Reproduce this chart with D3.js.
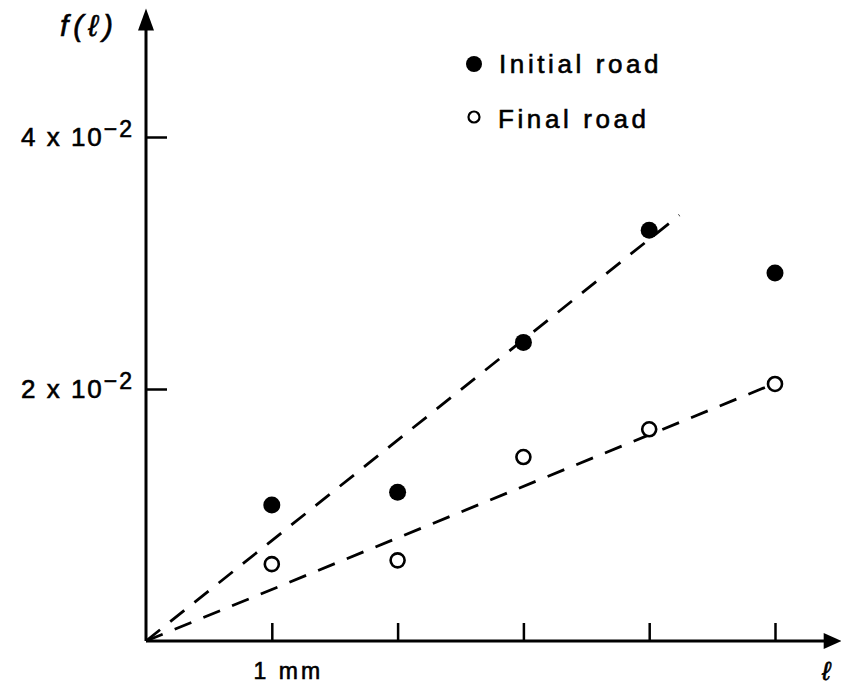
<!DOCTYPE html>
<html>
<head>
<meta charset="utf-8">
<script src="https://cdn.jsdelivr.net/npm/d3@7"></script>
<style>
  body { margin: 0; background: #fff; }
  text { font-family: "Liberation Sans", Arial, sans-serif; fill: #000; stroke: #000; stroke-width: 0.6; }
</style>
</head>
<body>
<div id="chart"></div>
<script>
// Data
let lengths = [1, 2, 3, 4, 5];                          // l, mm
let initialRoad = [0.0108, 0.0118, 0.0237, 0.0326, 0.0292];
let finalRoad = [0.0061, 0.0064, 0.0146, 0.0168, 0.0204];
let fitSlopes = [0.00797, 0.00409];                     // dashed lines through origin
let fitEnds = [4.24, 4.92];                             // where each dashed line stops
let yTicks = [0.02, 0.04];
let yTickLabels = [["2 x 10", "\u22122"], ["4 x 10", "\u22122"]];

let width = 841, height = 685;

let svg = d3.select("#chart")
	.append("svg")
	.attr("width", width)
	.attr("height", height);

// Scales: origin of the axes sits at (146, 641)
let x = d3.scaleLinear().domain([0, 5]).range([146, 775]);
let y = d3.scaleLinear().domain([0, 0.04]).range([641, 137]);

let xEnd = 5.53, yEnd = 0.0502;

// Axis ticks through d3.axis
let xAxis = svg.append("g")
	.attr("transform", "translate(0," + y(0) + ")")
	.call(d3.axisBottom(x)
		.tickValues(lengths)
		.tickSize(-18)
		.tickFormat(function (d) { return d === 1 ? "1 mm" : ""; }));
xAxis.select(".domain").remove();
xAxis.selectAll(".tick line").attr("stroke", "#000").attr("stroke-width", 2.5);
xAxis.selectAll(".tick text")
	.attr("font-size", 23)
	.attr("letter-spacing", 3)
	.attr("dx", 16)
	.attr("dy", 0)
	.attr("y", 38);

let yAxis = svg.append("g")
	.attr("transform", "translate(" + x(0) + ",0)")
	.call(d3.axisLeft(y)
		.tickValues(yTicks)
		.tickSize(-21)
		.tickFormat(""));
yAxis.select(".domain").remove();
yAxis.selectAll(".tick line").attr("stroke", "#000").attr("stroke-width", 2.5);
yAxis.selectAll(".tick text").remove();

// Tick labels with superscript exponent
yTicks.forEach(function (t, i) {
	let label = svg.append("text")
		.attr("x", 21)
		.attr("y", y(t) + 9)
		.attr("font-size", 26)
		.attr("letter-spacing", 2);
	label.append("tspan").text(yTickLabels[i][0]);
	label.append("tspan")
		.attr("dy", -9)
		.attr("font-size", 23)
		.text(yTickLabels[i][1]);
});

// Axis lines with arrow heads
svg.append("line")
	.attr("x1", x(0)).attr("y1", y(0))
	.attr("x2", x(xEnd) - 10).attr("y2", y(0))
	.attr("stroke", "#000").attr("stroke-width", 3);
svg.append("line")
	.attr("x1", x(0)).attr("y1", y(0))
	.attr("x2", x(0)).attr("y2", y(yEnd) + 10)
	.attr("stroke", "#000").attr("stroke-width", 3);

svg.append("path")
	.attr("d", "M" + x(xEnd) + "," + y(0) + "l-18,-8l0,16z")
	.attr("fill", "#000");
svg.append("path")
	.attr("d", "M" + x(0) + "," + y(yEnd) + "l-8,22l16,0z")
	.attr("fill", "#000");

// Axis titles
svg.append("text")
	.attr("x", 60).attr("y", 36)
	.attr("font-size", 30)
	.attr("font-style", "italic")
	.attr("letter-spacing", 5)
	.text("f(\u2113)");
svg.append("text")
	.attr("x", 822).attr("y", 680)
	.attr("font-size", 26)
	.attr("font-style", "italic")
	.text("\u2113");

// Dashed fit lines
svg.selectAll(".fit")
	.data(fitSlopes)
	.enter().append("line")
	.attr("class", "fit")
	.attr("x1", x(0)).attr("y1", y(0))
	.attr("x2", function (d, i) { return x(fitEnds[i]); })
	.attr("y2", function (d, i) { return y(d * fitEnds[i]); })
	.attr("stroke", "#000")
	.attr("stroke-width", 2.8)
	.attr("stroke-dasharray", "18,13");

// Initial road: filled dots
svg.selectAll(".initial")
	.data(initialRoad)
	.enter().append("circle")
	.attr("class", "initial")
	.attr("cx", function (d, i) { return x(lengths[i]); })
	.attr("cy", function (d) { return y(d); })
	.attr("r", 8.5)
	.attr("fill", "#000");

// Final road: open circles
svg.selectAll(".final")
	.data(finalRoad)
	.enter().append("circle")
	.attr("class", "final")
	.attr("cx", function (d, i) { return x(lengths[i]); })
	.attr("cy", function (d) { return y(d); })
	.attr("r", 7)
	.attr("fill", "#fff")
	.attr("stroke", "#000")
	.attr("stroke-width", 2.6);

// Legend
svg.append("circle")
	.attr("cx", 474).attr("cy", 64).attr("r", 8)
	.attr("fill", "#000");
svg.append("text")
	.attr("x", 499).attr("y", 73)
	.attr("font-size", 26)
	.attr("letter-spacing", 3.6)
	.text("Initial road");
svg.append("circle")
	.attr("cx", 474).attr("cy", 117).attr("r", 5.5)
	.attr("fill", "#fff")
	.attr("stroke", "#000")
	.attr("stroke-width", 2.2);
svg.append("text")
	.attr("x", 498).attr("y", 128)
	.attr("font-size", 26)
	.attr("letter-spacing", 3.6)
	.text("Final road");
</script>
</body>
</html>
